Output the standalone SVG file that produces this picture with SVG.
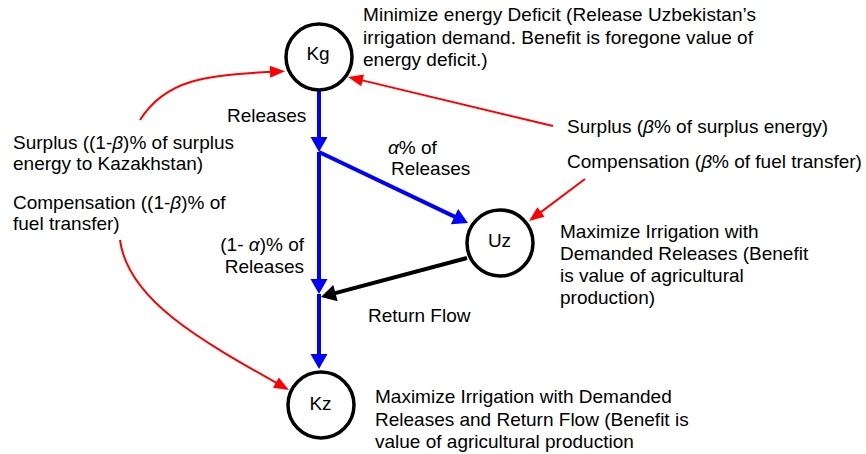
<svg xmlns="http://www.w3.org/2000/svg" width="866" height="454" viewBox="0 0 866 454">
<style>
text{font-family:"Liberation Sans",Arial,Helvetica,sans-serif;font-size:19px;fill:#000}
.node circle{fill:#fff;stroke:#000;stroke-width:3.5}
.lbl{text-anchor:middle}
.it{font-style:italic}
.blue{stroke:#0000ff;stroke-width:4;fill:none;marker-end:url(#ab)}
.black{stroke:#000;stroke-width:4;fill:none;marker-end:url(#ak)}
.red{stroke:#ff0000;stroke-width:2;fill:none;marker-end:url(#ar)}
</style>
<defs>
<marker id="ab" markerUnits="userSpaceOnUse" markerWidth="16" markerHeight="18" refX="7" refY="8.5" orient="auto" overflow="visible"><path d="M0,0 L15,8.5 L0,17 z" fill="#0000ff"/></marker>
<marker id="ak" markerUnits="userSpaceOnUse" markerWidth="16" markerHeight="18" refX="7" refY="8.5" orient="auto" overflow="visible"><path d="M0,0 L15,8.5 L0,17 z" fill="#000"/></marker>
<marker id="ar" markerUnits="userSpaceOnUse" markerWidth="16" markerHeight="13" refX="11" refY="6" orient="auto" overflow="visible"><path d="M0,0 L15,6 L0,12 z" fill="#ff0000"/></marker>
</defs>
<rect width="866" height="454" fill="#fff"/>
<g id="connectors">
<line class="blue" x1="319" y1="91" x2="319" y2="144"/>
<line class="blue" x1="319" y1="152" x2="460.8" y2="219.6"/>
<line class="blue" x1="319" y1="152" x2="319" y2="286"/>
<line class="blue" x1="319" y1="294" x2="319" y2="361"/>
<line class="black" x1="467" y1="258" x2="328.7" y2="294.9"/>
<path class="red" d="M140,120 C165,80 205,74 281,71.5"/>
<line class="red" x1="553" y1="126" x2="351.9" y2="77.9"/>
<line class="red" x1="585" y1="179" x2="532.2" y2="218.6"/>
<path class="red" d="M120,240 C128,300 200,340 285.5,388"/>
</g>
<g id="Kg" class="node"><circle cx="319" cy="57" r="33"/><text class="lbl" x="318" y="59.5">Kg</text></g>
<g id="Uz" class="node"><circle cx="500" cy="243" r="33"/><text class="lbl" x="499.5" y="247">Uz</text></g>
<g id="Kz" class="node"><circle cx="321" cy="405" r="33"/><text class="lbl" x="320.5" y="410">Kz</text></g>
<g id="labels">
<text x="363" y="21" textLength="393" lengthAdjust="spacing">Minimize energy Deficit (Release Uzbekistan’s</text>
<text x="363" y="44" textLength="390" lengthAdjust="spacing">irrigation demand. Benefit is foregone value of</text>
<text x="363" y="66">energy deficit.)</text>
<text x="227" y="122">Releases</text>
<text x="13" y="149">Surplus ((1-<tspan class="it">β</tspan>)% of surplus</text>
<text x="13" y="170">energy to Kazakhstan)</text>
<text x="13" y="209">Compensation ((1-<tspan class="it">β</tspan>)% of</text>
<text x="13" y="230">fuel transfer)</text>
<text x="567" y="133">Surplus (<tspan class="it">β</tspan>% of surplus energy)</text>
<text x="567" y="168">Compensation (<tspan class="it">β</tspan>% of fuel transfer)</text>
<text x="388" y="154"><tspan class="it">α</tspan>% of</text>
<text x="391" y="175">Releases</text>
<text x="304" y="251" text-anchor="end">(1- <tspan class="it">α</tspan>)% of</text>
<text x="304" y="273" text-anchor="end">Releases</text>
<text x="368" y="322">Return Flow</text>
<text x="560" y="238">Maximize Irrigation with</text>
<text x="560" y="260">Demanded Releases (Benefit</text>
<text x="560" y="282">is value of agricultural</text>
<text x="560" y="304">production)</text>
<text x="375" y="403">Maximize Irrigation with Demanded</text>
<text x="375" y="426">Releases and Return Flow (Benefit is</text>
<text x="375" y="448">value of agricultural production</text>
</g>
</svg>
